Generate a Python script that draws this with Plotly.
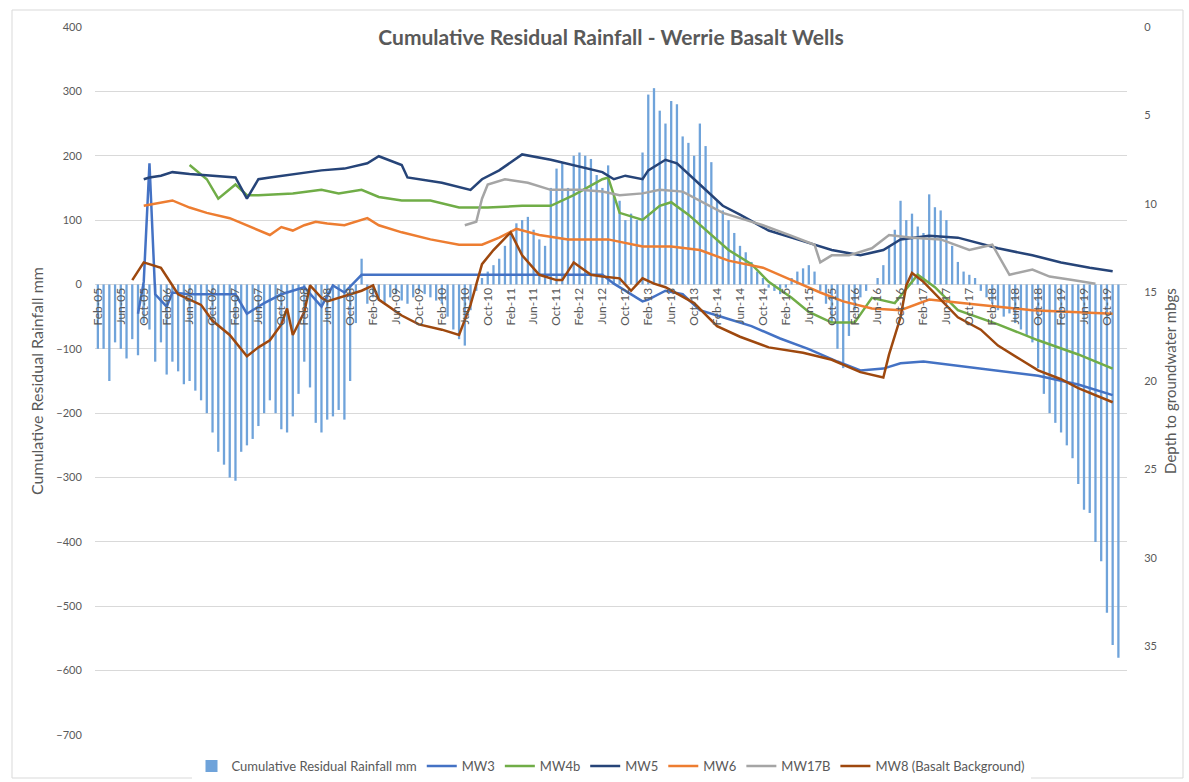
import pandas as pd
import plotly.graph_objects as go

# ---- categories (monthly, Feb-05 .. Jan-20) ----
months = list(pd.date_range("2005-02-01", periods=180, freq="MS").strftime("%b-%y"))
tick_labels = months[::4]

# ---- cumulative residual rainfall (mm), one value per month ----
rainfall = [
    -100, -100, -150, -90, -100, -115, -85, -110, -60, -70, -120, -90,
    -140, -120, -135, -155, -150, -165, -180, -200, -230, -260, -280, -300,
    -305, -260, -250, -240, -220, -200, -180, -200, -225, -230, -205, -170,
    -120, -160, -215, -230, -210, -205, -195, -210, -150, -60, 40, -30,
    -20, -25, -30, -20, -15, -25, -30, -20, -10, -15, -20, -25,
    -30, -50, -70, -85, -95, -40, -10, 10, 20, 30, 40, 60,
    80, 95, 100, 105, 85, 70, 60, 150, 180, 190, 150, 200,
    205, 200, 195, 170, 150, 185, 140, 130, 100, 110, 100, 205,
    295, 305, 270, 250, 285, 280, 230, 220, 200, 250, 215, 190,
    130, 115, 100, 80, 60, 50, 35, 20, 10, -5, -10, -15,
    -5, 10, 20, 25, 30, 20, -10, -30, -60, -100, -130, -80,
    -40, -20, -10, 0, 10, 30, 60, 85, 130, 100, 110, 90,
    80, 140, 120, 115, 100, 60, 35, 20, 15, 10, -10, -20,
    -30, -40, -50, -45, -60, -70, -80, -90, -130, -170, -200, -215,
    -230, -250, -270, -310, -350, -355, -400, -430, -510, -560, -580, None,
]

# ---- depth to groundwater (m bgs) ----
mw3_months = ["Sep-05", "Oct-05", "Nov-05", "Dec-05", "Feb-06", "Mar-06", "Jun-06", "Sep-06",
              "Feb-07", "Apr-07", "Jul-07", "Oct-07", "Feb-08", "May-08", "Jul-08", "Sep-08",
              "Dec-08", "Jan-09", "Jun-12", "Aug-12", "Jan-13", "Feb-13", "May-13", "Aug-13",
              "Nov-13", "Mar-14", "Aug-14", "Jan-15", "Jun-15", "Nov-15", "Mar-16", "Jul-16",
              "Oct-16", "Feb-17", "Jul-17", "Mar-18", "Oct-18", "May-19", "Nov-19"]
mw3_depth = [16.2, 14.4, 7.7, 15.1, 15.8, 15.0, 15.1, 15.1,
             15.1, 16.2, 15.6, 15.1, 14.7, 15.8, 14.6, 15.0,
             14.0, 14.0, 14.0, 14.5, 15.5, 15.4, 14.9, 15.1,
             16.0, 16.4, 16.9, 17.6, 18.2, 18.9, 19.4, 19.3,
             19.0, 18.9, 19.1, 19.4, 19.7, 20.2, 20.8]

mw4b_months = ["Jun-06", "Sep-06", "Nov-06", "Feb-07", "Apr-07", "Jun-07", "Dec-07", "May-08",
               "Aug-08", "Dec-08", "Mar-09", "Jul-09", "Dec-09", "May-10", "Oct-10", "Apr-11",
               "Sep-11", "Jan-12", "Jun-12", "Jul-12", "Sep-12", "Jan-13", "Apr-13", "Jun-13",
               "Sep-13", "Jan-14", "Apr-14", "Aug-14", "Nov-14", "Mar-15", "Jun-15", "Oct-15",
               "Feb-16", "May-16", "Sep-16", "Jan-17", "Apr-17", "Aug-17", "Mar-18", "Oct-18",
               "May-19", "Nov-19"]
mw4b_depth = [7.8, 8.6, 9.7, 8.9, 9.5, 9.5, 9.4, 9.2,
              9.4, 9.2, 9.6, 9.8, 9.8, 10.2, 10.2, 10.1,
              10.1, 9.5, 8.6, 8.5, 10.5, 10.9, 10.1, 9.9,
              10.6, 11.75, 12.6, 13.4, 14.4, 15.3, 16.1, 16.7,
              16.7, 15.3, 15.6, 14.0, 14.7, 16.0, 16.8, 17.7,
              18.5, 19.3]

mw5_months = ["Oct-05", "Nov-05", "Jan-06", "Mar-06", "Jun-06", "Nov-06", "Feb-07", "Apr-07",
              "Jun-07", "Aug-07", "Jan-08", "May-08", "Sep-08", "Jan-09", "Mar-09", "Jul-09",
              "Aug-09", "Feb-10", "Jul-10", "Sep-10", "Dec-10", "Apr-11", "Sep-11", "Jan-12",
              "Jun-12", "Aug-12", "Oct-12", "Jan-13", "Feb-13", "May-13", "Jul-13", "Nov-13",
              "Mar-14", "Jun-14", "Nov-14", "May-15", "Oct-15", "Mar-16", "Jul-16", "Oct-16",
              "Mar-17", "Aug-17", "Mar-18", "Sep-18", "Feb-19", "Jul-19", "Nov-19"]
mw5_depth = [8.6, 8.5, 8.4, 8.2, 8.3, 8.4, 8.5, 9.7,
             8.6, 8.5, 8.3, 8.1, 8.0, 7.7, 7.3, 7.8,
             8.5, 8.8, 9.2, 8.6, 8.1, 7.2, 7.5, 7.8,
             8.2, 8.6, 8.4, 8.6, 8.1, 7.5, 7.7, 8.9,
             10.1, 10.6, 11.5, 12.1, 12.6, 12.9, 12.6, 12.0,
             11.8, 11.9, 12.5, 12.9, 13.3, 13.6, 13.8]

mw6_months = ["Oct-05", "Jan-06", "Mar-06", "Jun-06", "Sep-06", "Jan-07", "Apr-07", "Aug-07",
              "Oct-07", "Dec-07", "Feb-08", "Apr-08", "Jun-08", "Sep-08", "Jan-09", "Mar-09",
              "Jul-09", "Dec-09", "May-10", "Sep-10", "Dec-10", "Mar-11", "Jul-11", "Dec-11",
              "Jul-12", "Jan-13", "Jun-13", "Nov-13", "Apr-14", "Oct-14", "Mar-15", "Aug-15",
              "Dec-15", "May-16", "Oct-16", "Mar-17", "Dec-17", "Sep-18", "Nov-19"]
mw6_depth = [10.1, 9.9, 9.8, 10.2, 10.5, 10.8, 11.2, 11.75,
             11.3, 11.5, 11.2, 11.0, 11.1, 11.2, 10.8, 11.2,
             11.6, 12.0, 12.3, 12.3, 11.9, 11.4, 11.75, 12.0,
             12.0, 12.4, 12.4, 12.6, 13.2, 13.6, 14.3, 15.0,
             15.5, 15.9, 16.0, 15.4, 15.7, 16.0, 16.2]

mw17b_months = ["Jun-10", "Aug-10", "Sep-10", "Oct-10", "Jan-11", "May-11", "Sep-11", "Feb-12",
                "Jun-12", "Sep-12", "Jan-13", "Apr-13", "Aug-13", "Nov-13", "Mar-14", "Jun-14",
                "Oct-14", "Mar-15", "Jul-15", "Aug-15", "Oct-15", "Jan-16", "May-16", "Aug-16",
                "Dec-16", "May-17", "Oct-17", "Feb-18", "May-18", "Sep-18", "Dec-18", "Apr-19",
                "Aug-19"]
mw17b_depth = [11.2, 11.0, 9.7, 8.9, 8.6, 8.8, 9.2, 9.2,
               9.3, 9.5, 9.4, 9.2, 9.3, 9.8, 10.5, 10.8,
               11.2, 11.8, 12.3, 13.3, 12.9, 12.9, 12.5, 11.75,
               11.9, 12.0, 12.6, 12.3, 14.0, 13.7, 14.1, 14.3,
               14.5]

mw8_months = ["Aug-05", "Oct-05", "Jan-06", "Mar-06", "Apr-06", "Aug-06", "Oct-06", "Jan-07",
              "Apr-07", "Jun-07", "Aug-07", "Oct-07", "Nov-07", "Dec-07", "Feb-08", "Mar-08",
              "May-08", "Jun-08", "Aug-08", "Oct-08", "Dec-08", "Feb-09", "Mar-09", "Jul-09",
              "Oct-09", "Feb-10", "May-10", "Jul-10", "Sep-10", "Nov-10", "Feb-11", "Apr-11",
              "Jul-11", "Oct-11", "Nov-11", "Jan-12", "Apr-12", "Jun-12", "Sep-12", "Nov-12",
              "Jan-13", "Mar-13", "May-13", "Oct-13", "Feb-14", "Jun-14", "Nov-14", "May-15",
              "Oct-15", "Mar-16", "Jul-16", "Aug-16", "Oct-16", "Nov-16", "Dec-16", "Feb-17",
              "May-17", "Aug-17", "Dec-17", "Mar-18", "Jul-18", "Oct-18", "Feb-19", "May-19",
              "Nov-19"]
mw8_depth = [14.3, 13.3, 13.6, 14.6, 15.1, 15.7, 16.6, 17.4,
             18.6, 18.1, 17.7, 16.8, 15.9, 17.4, 16.1, 14.6,
             15.3, 15.5, 15.3, 15.1, 14.9, 14.6, 15.4, 16.3,
             16.8, 17.1, 17.4, 15.7, 13.4, 12.6, 11.6, 12.9,
             14.0, 14.3, 14.3, 13.3, 14.0, 14.1, 14.2, 14.9,
             14.2, 14.5, 14.7, 15.6, 16.9, 17.5, 18.1, 18.4,
             18.8, 19.5, 19.8, 18.5, 16.4, 14.6, 13.9, 14.4,
             15.4, 16.4, 17.1, 18.0, 18.8, 19.4, 19.9, 20.4,
             21.2]

left_ticks = list(range(-700, 401, 100))
right_ticks = list(range(0, 36, 5))

TXT = "#595959"
FONT = "Lato, 'Open Sans', sans-serif"

fig = go.Figure()
fig.add_trace(go.Bar(x=months, y=rainfall, name="Cumulative Residual Rainfall mm",
                     marker=dict(color="#6FA3DA", line=dict(width=0)), yaxis="y"))

series = [
    ("MW3", mw3_months, mw3_depth, "#4472C4"),
    ("MW4b", mw4b_months, mw4b_depth, "#70AD47"),
    ("MW5", mw5_months, mw5_depth, "#264478"),
    ("MW6", mw6_months, mw6_depth, "#ED7D31"),
    ("MW17B", mw17b_months, mw17b_depth, "#A5A5A5"),
    ("MW8 (Basalt Background)", mw8_months, mw8_depth, "#9E480E"),
]
for name, xs, ys, col in series:
    fig.add_trace(go.Scatter(x=xs, y=ys, name=name, mode="lines", yaxis="y2",
                             line=dict(color=col, width=2.5), connectgaps=True))

fig.update_layout(
    width=1189, height=782,
    margin=dict(l=95, r=62, t=27, b=47, autoexpand=False),
    paper_bgcolor="white", plot_bgcolor="white",
    font=dict(family=FONT, color=TXT, size=11),
    bargap=0.6,
    title=dict(text="<b>Cumulative Residual Rainfall - Werrie Basalt Wells</b>",
               x=0.5, xref="paper", xanchor="center", y=1 - 38 / 782, yanchor="middle",
               font=dict(size=21, color=TXT, family=FONT)),
    showlegend=True,
    legend=dict(orientation="h", x=0.5, xanchor="center", y=-0.044, yanchor="middle",
                font=dict(size=13, color=TXT), traceorder="normal", itemwidth=30),
    xaxis=dict(type="category", categoryorder="array", categoryarray=months,
               range=[-0.5, 179.5], tickmode="array", tickvals=tick_labels, ticktext=tick_labels,
               tickangle=-90, tickfont=dict(size=12, color=TXT), showgrid=False,
               showline=False, zeroline=False, ticks="", anchor="free",
               position=700 / 1100, automargin=False),
    yaxis=dict(range=[-700, 400], tickmode="array", tickvals=left_ticks,
               gridcolor="#D9D9D9", gridwidth=1, zeroline=False, showline=False,
               ticks="outside", ticklen=10, tickcolor="rgba(0,0,0,0)",
               tickfont=dict(size=11, color=TXT), automargin=False,
               title=dict(text="Cumulative Residual Rainfall mm", font=dict(size=16, color=TXT),
                          standoff=8)),
    yaxis2=dict(range=[40, 0], overlaying="y", side="right", tickmode="array",
                tickvals=right_ticks, showgrid=False, zeroline=False, showline=False,
                ticks="outside", ticklen=14, tickcolor="rgba(0,0,0,0)",
                tickfont=dict(size=11, color=TXT), automargin=False,
                title=dict(text="Depth to groundwater mbgs", font=dict(size=15, color=TXT),
                           standoff=8)),
    shapes=[dict(type="rect", xref="paper", yref="paper",
                 x0=(12 - 95) / 1032, x1=(1183 - 95) / 1032,
                 y0=(735 - 778) / 708, y1=(735 - 10) / 708,
                 line=dict(color="#D9D9D9", width=1), fillcolor="rgba(0,0,0,0)", layer="below")],
)

fig.write_html("out.html", config={"displayModeBar": False},
               post_script="document.body.style.margin='0';")
